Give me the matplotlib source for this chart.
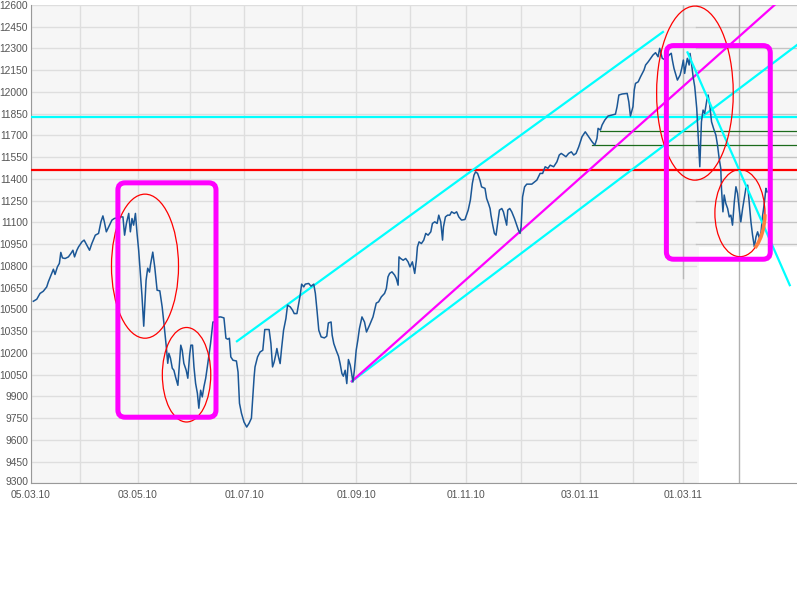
import matplotlib
matplotlib.use("Agg")
import matplotlib.pyplot as plt
from matplotlib.patches import Ellipse, FancyBboxPatch, Arc
from matplotlib.transforms import ScaledTranslation

# x values are calendar days since 05.03.10, y values are index points
days = [1.3, 3.2, 5.0, 6.8, 8.7, 9.6, 11.5, 12.4, 13.3, 14.6,
        15.7, 16.5, 17.4, 18.9, 20.7, 22.1, 23.2, 24.1, 25.4, 26.3,
        28.2, 29.4, 30.9, 32.4, 33.7, 35.6, 37.4, 38.7, 39.8, 40.6,
        41.7, 43.0, 44.8, 46.1, 47.9, 49.4, 50.9, 51.8, 52.8, 54.1,
        55.0, 55.9, 56.8, 57.8, 58.7, 59.6, 60.6, 61.4, 62.4, 63.7,
        64.6, 65.6, 66.1, 67.4, 68.5, 69.8, 71.3, 72.6, 73.5, 74.8,
        75.7, 76.3, 77.2, 78.2, 79.1, 80.0, 81.3, 82.2, 82.9, 83.7,
        84.6, 85.9, 86.8, 87.8, 88.5, 89.4, 90.2, 91.1, 92.1, 92.9,
        93.9, 94.8, 95.7, 96.7, 97.6, 99.4, 100.7, 101.8, 103.2, 105.0,
        106.8, 107.9, 108.9, 109.8, 110.6, 111.8, 113.7, 114.6, 115.4, 116.5,
        117.9, 119.4, 120.7, 122.0, 122.8, 123.5, 124.0, 125.4, 126.8, 128.3,
        129.4, 131.8, 132.8, 133.7, 134.6, 135.6, 136.1, 137.0, 137.9, 138.7,
        139.8, 141.1, 142.0, 143.5, 144.8, 145.7, 147.2, 148.2, 149.0, 149.8,
        151.0, 151.8, 153.7, 155.0, 156.5, 157.4, 158.3, 159.3, 160.6, 162.4,
        163.7, 164.6, 166.1, 166.7, 167.6, 168.9, 170.2, 171.1, 172.1, 172.9,
        173.9, 174.8, 175.7, 176.7, 177.2, 178.2, 179.0, 180.0, 180.9, 181.8,
        183.2, 184.6, 185.7, 187.4, 189.3, 191.1, 192.4, 193.9, 195.7, 196.7,
        197.6, 198.5, 199.8, 201.3, 202.2, 203.2, 203.7, 204.6, 206.0, 207.4,
        208.7, 209.8, 211.1, 212.4, 213.3, 213.9, 214.8, 216.1, 217.4, 218.5,
        219.8, 221.3, 222.2, 223.5, 224.8, 225.7, 226.8, 227.8, 228.3, 229.4,
        230.6, 231.8, 232.8, 234.3, 235.6, 236.8, 238.3, 240.2, 242.0, 243.2,
        244.3, 245.2, 246.1, 247.2, 248.5, 249.4, 251.3, 252.2, 253.2, 254.1,
        254.6, 255.6, 256.5, 257.4, 258.3, 259.3, 260.6, 261.5, 262.4, 263.3,
        263.9, 265.0, 266.1, 267.6, 268.9, 269.8, 270.7, 271.3, 272.1, 273.2,
        274.4, 277.2, 280.0, 281.8, 283.2, 284.6, 286.1, 287.4, 289.3, 291.1,
        292.4, 293.5, 294.8, 296.1, 297.6, 299.1, 300.4, 301.7, 303.2, 304.1,
        305.0, 306.8, 308.7, 310.6, 312.1, 313.3, 313.9, 315.2, 316.1, 317.6,
        319.4, 321.7, 323.5, 324.4, 325.4, 327.2, 330.0, 330.9, 331.8, 333.2,
        333.9, 334.6, 336.1, 337.4, 339.3, 340.2, 341.7, 343.0, 344.3, 345.7,
        347.1, 348.0, 349.4, 351.3, 353.2, 354.4, 355.0, 355.9, 357.8, 359.3,
        360.2, 361.1, 361.8, 362.4, 363.3, 364.3, 364.8, 365.7, 366.5, 367.4,
        368.5, 369.3, 370.2, 371.1, 372.0, 372.9, 374.1, 374.8, 375.7, 376.7,
        377.8, 379.1, 380.0, 380.9, 381.8, 382.2, 383.0, 383.7, 384.6, 385.6,
        386.5, 387.4, 388.3, 389.3, 390.2, 391.1, 392.1, 392.9, 393.9, 394.8,
        395.7, 396.7, 397.6, 398.5, 399.4, 400.4, 401.3, 402.2, 403.2, 404.1,
        405.0, 406.0, 406.8, 407.4]
close = [10556, 10570, 10610, 10625, 10655, 10690, 10748, 10777, 10741, 10793,
         10817, 10893, 10855, 10851, 10862, 10886, 10908, 10862, 10908, 10931,
         10966, 10978, 10943, 10908, 10955, 11012, 11024, 11104, 11145, 11104,
         11035, 11069, 11116, 11127, 11132, 11138, 11138, 11012, 11093, 11162,
         11035, 11127, 11081, 11162, 11024, 10908, 10736, 10598, 10384, 10701,
         10784, 10757, 10805, 10895, 10791, 10632, 10628, 10517, 10413, 10253,
         10128, 10197, 10163, 10094, 10080, 10034, 9976, 10128, 10253, 10218,
         10128, 10080, 10025, 10184, 10253, 10253, 10103, 9990, 9921, 9818,
         9942, 9896, 9965, 10025, 10103, 10266, 10413, 10413, 10446, 10448,
         10441, 10301, 10294, 10301, 10172, 10149, 10144, 10068, 9852, 9783,
         9723, 9688, 9714, 9749, 9896, 10034, 10103, 10172, 10206, 10218,
         10361, 10361, 10264, 10103, 10137, 10195, 10230, 10172, 10126, 10230,
         10356, 10437, 10529, 10517, 10494, 10471, 10471, 10540, 10598, 10674,
         10655, 10674, 10679, 10660, 10674, 10610, 10494, 10356, 10310, 10303,
         10315, 10406, 10413, 10322, 10264, 10218, 10177, 10126, 10057, 10039,
         10080, 9988, 10154, 10115, 10080, 9999, 10080, 10218, 10287, 10368,
         10448, 10413, 10344, 10391, 10448, 10543, 10552, 10586, 10610, 10644,
         10724, 10748, 10759, 10736, 10713, 10667, 10862, 10851, 10839, 10851,
         10828, 10793, 10828, 10748, 10839, 10931, 10966, 10954, 10978, 11024,
         11012, 11035, 11093, 11104, 11093, 11150, 11104, 10978, 11069, 11138,
         11150, 11150, 11173, 11162, 11173, 11138, 11116, 11120, 11185, 11254,
         11369, 11426, 11449, 11438, 11392, 11345, 11335, 11265, 11231, 11196,
         11150, 11081, 11024, 11012, 11093, 11185, 11196, 11173, 11127, 11081,
         11185, 11196, 11173, 11127, 11081, 11047, 11024, 11069, 11276, 11345,
         11364, 11364, 11392, 11438, 11438, 11484, 11473, 11495, 11484, 11518,
         11565, 11576, 11565, 11553, 11576, 11587, 11565, 11576, 11622, 11656,
         11691, 11725, 11691, 11656, 11633, 11680, 11749, 11737, 11772, 11806,
         11834, 11841, 11847, 11898, 11979, 11986, 11990, 11932, 11834, 11898,
         12013, 12059, 12070, 12105, 12151, 12186, 12209, 12232, 12255, 12271,
         12243, 12301, 12232, 12220, 12255, 12267, 12220, 12163, 12082, 12117,
         12163, 12220, 12128, 12174, 12232, 12186, 12266, 12186, 12105, 12036,
         11887, 11702, 11484, 11794, 11875, 11852, 11944, 11979, 11910, 11794,
         11749, 11702, 11633, 11542, 11473, 11334, 11173, 11289, 11231, 11196,
         11138, 11150, 11081, 11242, 11346, 11300, 11185, 11104, 11196, 11265,
         11335, 11357, 11231, 11104, 11012, 10931, 11000, 11035, 10989, 11035,
         11150, 11242, 11335, 11311]

tick_days = [0, 59, 118, 180, 241, 304, 361]
tick_labels = ["05.03.10", "03.05.10", "01.07.10", "01.09.10", "01.11.10", "03.01.11", "01.03.11"]
month_days = [0, 27, 59, 88, 118, 150, 180, 210, 241, 271, 304, 333, 361]
y_ticks = list(range(9300, 12601, 150))

# drawn-in levels and trend lines
cyan_level = 11829
red_level = 11461
green_start = [314.9, 310.8]
green_value = [11730, 11631]
upper_channel = ([114.0, 349.8], [10280, 12414])
magenta_trend = ([177.6, 424.0], [10004, 12738])
lower_channel = ([177.6, 424.0], [10004, 12324])
down_trend = ([363.4, 420.0], [12273, 10667])

# ellipses: centre day, centre value, width (days), height (points)
ell_x = [63.1, 86.1, 367.5, 392.4]
ell_y = [10798, 10049, 11992, 11164]
ell_w = [37.1, 26.8, 42.4, 27.7]
ell_h = [994, 652, 1201, 601]

# boxes: left day, right day, bottom, top
box_x0 = [48.1, 351.7]
box_x1 = [102.4, 409.2]
box_y0 = [9756, 10846]
box_y1 = [11373, 12320]

fig = plt.figure(figsize=(7.97, 5.97), dpi=100)
ax = fig.add_axes([31 / 797, 113.7 / 597, 766 / 797, 478.3 / 597])
ax.set_facecolor("white")
ax.set_xlim(0, 424)
ax.set_ylim(9300, 12600)

# background and grid
ax.axvspan(0, 369.5, color="#f6f6f6", zorder=0, lw=0)
ax.fill_between([369.5, 424], 10930, 12600, color="#f6f6f6", zorder=0, lw=0)
for v in y_ticks:
    ax.plot([0, 368], [v, v], color="#dedede", lw=1, zorder=1)
    if v >= 10950:
        ax.plot([368, 424], [v, v], color="#c4c4c4", lw=1, zorder=1)
for d in month_days:
    ax.axvline(d, color="#dedede", lw=1, zorder=1)
ax.plot([361, 361], [10714, 12600], color="#b8b8b8", lw=1, zorder=1)
ax.axvline(392, color="#b0b0b0", lw=1, zorder=1)

# index line
ax.plot(days, close, color="#1b5796", lw=1.1, zorder=5)

# horizontal levels
ax.axhline(cyan_level, color="#00ffff", lw=1.6, zorder=4)
ax.axhline(red_level, color="#ff0000", lw=1.6, zorder=4)
for d, v in zip(green_start, green_value):
    ax.plot([d, 424], [v, v], color="#1c6b1c", lw=0.9, zorder=4)

# trend lines
ax.plot(*upper_channel, color="#00ffff", lw=1.6, zorder=4)
ax.plot(*lower_channel, color="#00ffff", lw=1.6, zorder=4)
ax.plot(*magenta_trend, color="#ff00ff", lw=1.6, zorder=4)
ax.plot(*down_trend, color="#00ffff", lw=1.6, zorder=6)

# ellipses
for x, y, w, h in zip(ell_x, ell_y, ell_w, ell_h):
    ax.add_patch(Ellipse((x, y), w, h, fc="none", ec="#ff0000", lw=0.9, zorder=6))
ax.add_patch(Arc((ell_x[3], ell_y[3]), ell_w[3], ell_h[3], theta1=272, theta2=330,
                 color="#ff8040", lw=2.6, zorder=6))

# boxes
aspect = 6.904 * 1.807
for x0, x1, y0, y1 in zip(box_x0, box_x1, box_y0, box_y1):
    ax.add_patch(FancyBboxPatch((x0, y0), x1 - x0, y1 - y0,
                                boxstyle="round,pad=0,rounding_size=4",
                                mutation_aspect=aspect, fc="none", ec="#ff00ff",
                                lw=3.6, zorder=7))

# axes styling
for s in ["top", "right"]:
    ax.spines[s].set_visible(False)
ax.spines["left"].set_color("#999999")
ax.spines["bottom"].set_color("#999999")
ax.set_yticks(y_ticks)
ax.set_yticklabels([str(v) for v in y_ticks])
ax.set_xticks(tick_days)
ax.set_xticklabels(tick_labels)
ax.tick_params(length=0, labelsize=7.4, labelcolor="#555555")
ax.tick_params(axis="y", pad=2)
ax.tick_params(axis="x", pad=4.5)
for lab in ax.get_xticklabels() + ax.get_yticklabels():
    lab.set_family("Liberation Sans")
# lowest y label nudged up a little so it clears the first date label
low = ax.get_yticklabels()[0]
low.set_transform(low.get_transform() + ScaledTranslation(0, 1.5 / 72, fig.dpi_scale_trans))

fig.savefig("out.png", dpi=100)
